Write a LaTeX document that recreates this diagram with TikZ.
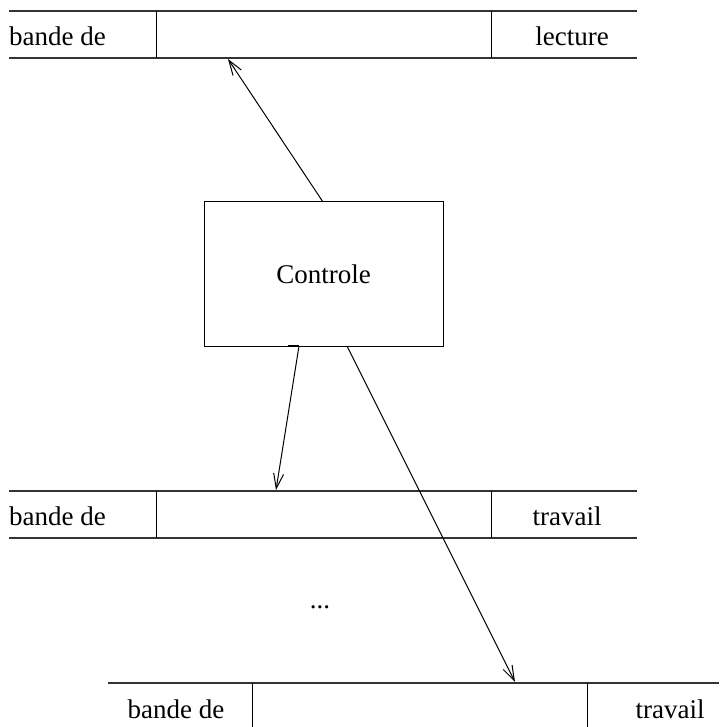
\documentclass[tikz,border=0pt]{standalone}
\usepackage{fontspec}
\setmainfont{Liberation Serif}
\usetikzlibrary{arrows.meta}
\begin{document}
\begin{tikzpicture}[x=1pt,y=-1pt,
  tapeline/.style={line width=1.3pt,draw=black!80},
  cellline/.style={line width=1pt},
  label/.style={inner sep=0pt,font=\fontsize{27}{32}\selectfont},
  ctrl/.style={draw,line width=1pt,minimum width=239pt,minimum height=144pt,inner sep=0pt,font=\fontsize{27}{32}\selectfont},
  link/.style={line width=1pt,-{Straight Barb[length=15pt,width=10pt]}}]
\useasboundingbox (0,0) rectangle (719,727);

% tape "lecture"
\draw[tapeline] (9,11) -- (637,11);
\draw[tapeline] (9,58) -- (637,58);
\draw[cellline] (156,11) -- (156,58);
\draw[cellline] (491,11) -- (491,58);
\node[label,anchor=west] (l1) at (9,36) {bande de};
\node[label] (r1) at (572,36) {lecture};

% first work tape
\draw[tapeline] (9,491) -- (637,491);
\draw[tapeline] (9,538) -- (637,538);
\draw[cellline] (156,491) -- (156,538);
\draw[cellline] (491,491) -- (491,538);
\node[label,anchor=west] (l2) at (9,516) {bande de};
\node[label] (r2) at (567,516) {travail};

\node[label] (dots) at (320,607) {...};

% last work tape
\draw[tapeline] (108,683) -- (719,683);
\draw[cellline] (252,683) -- (252,727);
\draw[cellline] (587,683) -- (587,727);
\node[label] (l3) at (176,709) {bande de};
\node[label] (r3) at (670,709) {travail};

% control unit
\node[ctrl] (c) at (323.5,274) {Controle};
\draw[line width=2.5pt] (288,346) -- (299,346);

\coordinate (t1) at (228,59);
\coordinate (t2) at (276,490);
\coordinate (t3) at (515,682);
\coordinate (s1) at (323,202);
\coordinate (s2) at (299,346);
\coordinate (s3) at (347,346);

\draw[link] (s1) -- (t1);
\draw[link] (s2) -- (t2);
\draw[link] (s3) -- (t3);
\end{tikzpicture}
\end{document}
